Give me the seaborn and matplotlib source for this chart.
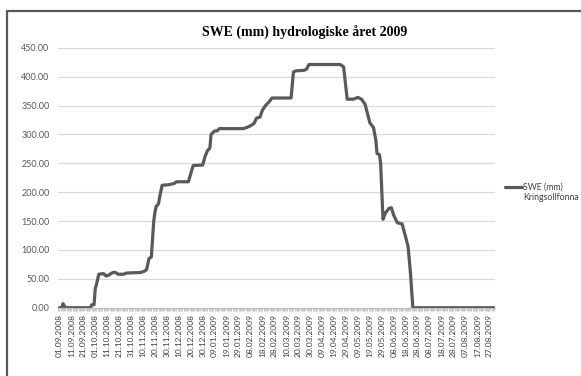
import matplotlib
matplotlib.use("Agg")
import matplotlib.pyplot as plt
import matplotlib.dates as mdates
import matplotlib.patches as mpatches
import numpy as np
import pandas as pd
import seaborn as sns

# Snow water equivalent (mm), Kringsollfonna, hydrological year 2009
dato = [
    "2008-09-01", "2008-09-03", "2008-09-04", "2008-09-06", "2008-09-27", "2008-09-28",
    "2008-09-30", "2008-10-01", "2008-10-02", "2008-10-04", "2008-10-08", "2008-10-10",
    "2008-10-12", "2008-10-14", "2008-10-16", "2008-10-18", "2008-10-20", "2008-10-25",
    "2008-10-27", "2008-11-08", "2008-11-11", "2008-11-13", "2008-11-15", "2008-11-17",
    "2008-11-19", "2008-11-20", "2008-11-21", "2008-11-23", "2008-11-24", "2008-11-26",
    "2008-12-02", "2008-12-06", "2008-12-08", "2008-12-18", "2008-12-20", "2008-12-22",
    "2008-12-30", "2009-01-01", "2009-01-03", "2009-01-05", "2009-01-06", "2009-01-09",
    "2009-01-11", "2009-01-13", "2009-02-02", "2009-02-05", "2009-02-08", "2009-02-11",
    "2009-02-13", "2009-02-16", "2009-02-18", "2009-02-21", "2009-02-23", "2009-02-26",
    "2009-03-14", "2009-03-16", "2009-03-18", "2009-03-25", "2009-03-27", "2009-03-29",
    "2009-04-24", "2009-04-27", "2009-04-30", "2009-05-05", "2009-05-09", "2009-05-12",
    "2009-05-15", "2009-05-17", "2009-05-19", "2009-05-22", "2009-05-24", "2009-05-25",
    "2009-05-27", "2009-05-28", "2009-05-30", "2009-06-01", "2009-06-04", "2009-06-06",
    "2009-06-08", "2009-06-11", "2009-06-15", "2009-06-18", "2009-06-20", "2009-06-22",
    "2009-06-24", "2009-08-31",
]
swe = [
    0, 0, 7, 0, 0, 5,
    5, 33, 40, 58, 59, 55,
    56, 59, 61, 61, 58, 58,
    60, 61, 63, 66, 85, 88,
    150, 165, 175, 180, 192, 212,
    213, 215, 218, 218, 232, 246,
    247, 262, 272, 276, 300, 306,
    306, 310, 310, 312, 315, 319,
    328, 330, 342, 351, 355, 363,
    363, 408, 410, 411, 413, 421,
    421, 417, 361, 361, 364, 361,
    352, 336, 320, 312, 290, 267,
    265, 250, 153, 164, 172, 173,
    160, 147, 145, 122, 106, 60,
    0, 0,
]
serie_navn = "SWE (mm)\nKringsollfonna"
tittel = "SWE (mm) hydrologiske året 2009"
y_ticks = [0, 50, 100, 150, 200, 250, 300, 350, 400, 450]

df = pd.DataFrame({"dato": pd.to_datetime(dato), "swe": swe})

sns.set_theme(style="white")
plt.rcParams["font.family"] = ["Lato", "DejaVu Sans"]

fig = plt.figure(figsize=(5.81, 3.76), dpi=100)
ax = fig.add_axes([0.0998, 0.1816, 0.7522, 0.6914])

sns.lineplot(data=df, x="dato", y="swe", ax=ax, color="#595959",
             linewidth=2.3, label=serie_navn)

# axes ranges and grid
start = pd.Timestamp("2008-09-01")
slutt = pd.Timestamp("2009-08-31")
ax.set_xlim(start - pd.Timedelta(days=1.2), slutt + pd.Timedelta(days=0.8))
ax.set_ylim(0, 450)
ax.set_yticks(y_ticks)
ax.set_yticklabels([f"{v:.2f}" for v in y_ticks])
ax.yaxis.grid(True, color="#d9d9d9", linewidth=0.9)
ax.set_axisbelow(True)

ticks = pd.date_range(start, slutt, freq="10D")
ax.set_xticks(ticks)
ax.set_xticklabels([t.strftime("%d.%m.%Y") for t in ticks], rotation=90)
ax.xaxis.set_minor_locator(mdates.DayLocator())
ax.tick_params(axis="x", which="both", length=2.5, width=0.6, color="#bfbfbf",
               labelsize=6, labelcolor="#404040", pad=2, bottom=True)
ax.tick_params(axis="y", length=0, labelsize=6.5, labelcolor="#595959", pad=6)
ax.set_xlabel("")
ax.set_ylabel("")

for side in ("left", "right", "top"):
    ax.spines[side].set_visible(False)
ax.spines["bottom"].set_color("#bfbfbf")
ax.spines["bottom"].set_linewidth(0.8)

fig.text(0.525, 0.912, tittel, ha="center", va="center",
         fontsize=10, fontweight="bold", family=["Liberation Serif", "DejaVu Serif"],
         color="#000000")

leg = ax.legend(loc="upper left", bbox_to_anchor=(0.870, 0.515), bbox_transform=fig.transFigure,
                frameon=False, fontsize=6.3, handlelength=1.9, handletextpad=0.12,
                borderaxespad=0, borderpad=0)
for txt in leg.get_texts():
    txt.set_color("#404040")
# keep the legend key level with the first line of its label
for ln in leg.get_lines():
    ln.set_ydata(np.asarray(ln.get_ydata()) + 3.8)

# chart border
fig.patches.append(mpatches.Rectangle((0.0112, -0.2), 1.5, 1.2 - 0.0282,
                                      transform=fig.transFigure, fill=False,
                                      edgecolor="#595959", linewidth=1.6))

fig.savefig("out.png", dpi=100)
